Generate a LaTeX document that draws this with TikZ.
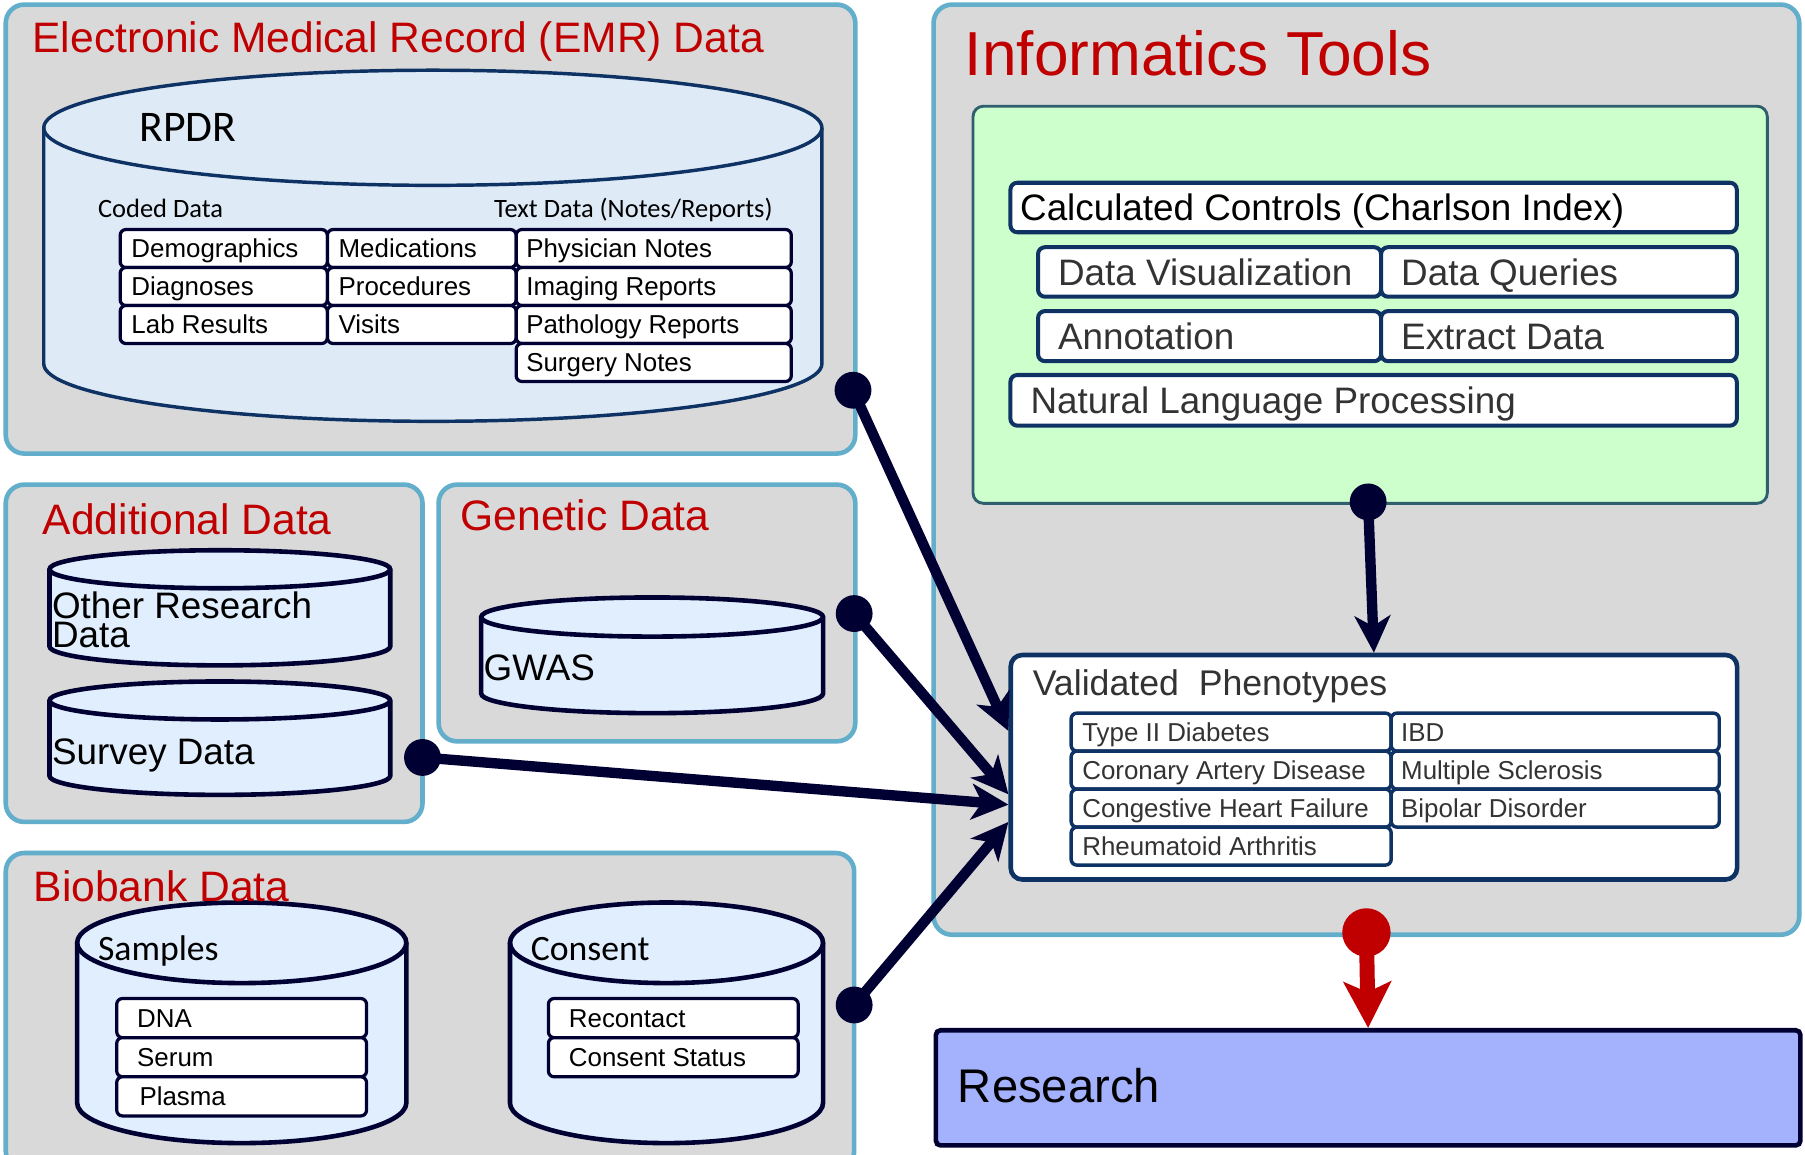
\documentclass[tikz,border=0pt]{standalone}
\usepackage{fontspec}
\setmainfont{Liberation Sans}
\newfontfamily\calfont{Carlito}
\usetikzlibrary{arrows.meta}

\newcommand\fsz[1]{\fontsize{#1}{#1}\selectfont}

\definecolor{panelfill}{HTML}{D9D9D9}
\definecolor{panelline}{HTML}{62AECB}
\definecolor{titlered}{HTML}{C00000}
\definecolor{inknavy}{HTML}{000033}
\definecolor{navyline}{HTML}{0E3263}
\definecolor{cylfilla}{HTML}{DEEAF6}
\definecolor{cylfillb}{HTML}{E1EEFD}
\definecolor{toolgreen}{HTML}{CCFFCC}
\definecolor{toolline}{HTML}{2F5F6F}
\definecolor{researchfill}{HTML}{A4B1FD}
\definecolor{graytext}{HTML}{333333}

% database cylinder: style, centre x, top-ellipse y, bottom-ellipse y, x radius, y radius
\newcommand\dbcyl[6]{%
  \path[#1] ({#2-#5},#3) -- ({#2-#5},#4)
     arc[start angle=180,end angle=0,x radius=#5,y radius=#6]
     -- ({#2+#5},#3)
     arc[start angle=0,end angle=-180,x radius=#5,y radius=#6] -- cycle;
  \path[#1,fill=none] ({#2+#5},#3)
     arc[start angle=0,end angle=180,x radius=#5,y radius=#6];
}

% framed cell with left-set label: box style, text style, name, x, y, width, height, text inset, label
\newcommand\cell[9]{%
  \node[#1,minimum width=#6pt,minimum height=#7pt] (#3) at (#4,#5) {};
  \node[#2] (#3-t) at ([xshift=#8pt]#3.west) {#9};
}

\begin{document}
\begin{tikzpicture}[x=1pt,y=-1pt,
  panel/.style={draw=panelline,line width=4pt,fill=panelfill,rounded corners=16pt,
    anchor=north west,inner sep=0pt,outer sep=0pt},
  paneltitle/.style={anchor=base west,inner sep=0pt,text=titlered,font=\fsz{37}},
  emrdb/.style={draw=navyline,line width=3pt,fill=cylfilla},
  db/.style={draw=inknavy,line width=4pt,fill=cylfillb},
  dblabel/.style={anchor=base west,inner sep=0pt,font=\fsz{32}},
  callabel/.style={anchor=base west,inner sep=0pt,font=\calfont\fsz{#1}},
  cellbox/.style={draw=inknavy,line width=2.8pt,fill=white,rounded corners=5pt,
    anchor=north west,inner sep=0pt},
  celltext/.style={anchor=west,inner sep=0pt,text height=16pt,text depth=0pt,font=\fsz{22.5}},
  toolbox/.style={draw=navyline,line width=3.5pt,fill=white,rounded corners=6pt,
    anchor=north west,inner sep=0pt},
  tooltext/.style={anchor=west,inner sep=0pt,text height=23pt,text depth=0pt,
    font=\fsz{32},text=graytext},
  vpbox/.style={draw=navyline,line width=3pt,fill=white,rounded corners=5pt,
    anchor=north west,inner sep=0pt},
  vptext/.style={celltext,text=graytext},
  flow/.style={draw=inknavy,line width=9pt,-{Stealth[length=32pt,width=31pt,inset=9pt]}},
  redflow/.style={draw=titlered,line width=13pt,-{Stealth[length=40pt,width=41pt,inset=9pt]}}
]
\useasboundingbox (0,0) rectangle (1568,1003);
\clip (0,0) rectangle (1568,1003);

% ---------- panels ----------
\node[panel,minimum width=738pt,minimum height=390pt] (emr) at (5,4) {};
\node[panel,minimum width=362pt,minimum height=293pt] (addl) at (5,421) {};
\node[panel,minimum width=362pt,minimum height=223pt] (gen) at (381,421) {};
\node[panel,minimum width=737pt,minimum height=275pt] (bio) at (5,741) {};
\node[panel,minimum width=752pt,minimum height=808pt] (info) at (811,4) {};

% ---------- EMR data ----------
\dbcyl{emrdb}{376}{111}{316}{338}{50}
\node[callabel=38] (rpdr) at (121,123) {RPDR};
\node[callabel=23] (coded) at (85,189) {Coded Data};
\node[callabel=23] (textdata) at (429,189) {Text Data (Notes/Reports)};

\cell{cellbox}{celltext}{demo}{103}{198}{180}{33}{11}{Demographics}
\cell{cellbox}{celltext}{diag}{103}{231}{180}{33}{11}{Diagnoses}
\cell{cellbox}{celltext}{lab}{103}{264}{180}{33}{11}{Lab Results}
\cell{cellbox}{celltext}{meds}{283}{198}{164}{33}{11}{Medications}
\cell{cellbox}{celltext}{proc}{283}{231}{164}{33}{11}{Procedures}
\cell{cellbox}{celltext}{visits}{283}{264}{164}{33}{11}{Visits}
\cell{cellbox}{celltext}{phys}{447}{198}{239}{33}{10}{Physician Notes}
\cell{cellbox}{celltext}{imag}{447}{231}{239}{33}{10}{Imaging Reports}
\cell{cellbox}{celltext}{path}{447}{264}{239}{33}{10}{Pathology Reports}
\cell{cellbox}{celltext}{surg}{447}{297}{239}{33}{10}{Surgery Notes}

\node[paneltitle] (emrtitle) at (28,46) {Electronic Medical Record (EMR) Data};

% ---------- additional data ----------
\dbcyl{db}{191}{494.5}{561.5}{148}{16.5}
\node[anchor=north west,inner sep=0pt,align=left,font=\fontsize{32}{25}\selectfont]
  (other) at (45,514) {Other Research\\Data};
\dbcyl{db}{191}{608.5}{674}{148}{16.5}
\node[dblabel] (survey) at (45,664) {Survey Data};
\node[paneltitle] (addltitle) at (37,464) {Additional Data};

% ---------- genetic data ----------
\dbcyl{db}{566.5}{536}{602.5}{148.5}{17}
\node[dblabel] (gwas) at (420,591) {GWAS};
\node[paneltitle] (gentitle) at (400,461) {Genetic Data};

% ---------- biobank data ----------
\dbcyl{db}{210}{819}{958}{143}{35}
\node[callabel=31] (samples) at (85,834) {Samples};
\cell{cellbox}{celltext}{dna}{100}{866}{217}{34}{19}{DNA}
\cell{cellbox}{celltext}{serum}{100}{900}{217}{34}{19}{Serum}
\cell{cellbox}{celltext}{plasma}{100}{934}{217}{34}{21}{Plasma}
\dbcyl{db}{579}{819}{958}{136}{35}
\node[callabel=31] (consent) at (461,834) {Consent};
\cell{cellbox}{celltext}{recon}{475}{866}{217}{34}{19}{Recontact}
\cell{cellbox}{celltext}{cstat}{475}{900}{217}{34}{19}{Consent Status}
\node[paneltitle] (biotitle) at (29,783) {Biobank Data};

% ---------- informatics tools ----------
\node[paneltitle,font=\fsz{54}] (infotitle) at (838,66) {Informatics Tools};
\node[draw=toolline,line width=2.5pt,fill=toolgreen,rounded corners=9pt,
  anchor=north west,inner sep=0pt,minimum width=690pt,minimum height=345pt] (tools) at (844,91) {};
\cell{toolbox}{tooltext,text=black}{calc}{876}{157}{631}{43}{10}{Calculated Controls (Charlson Index)}
\cell{toolbox}{tooltext}{vis}{900}{213}{298}{43}{19}{Data Visualization}
\cell{toolbox}{tooltext}{query}{1198}{213}{309}{43}{19}{Data Queries}
\cell{toolbox}{tooltext}{annot}{900}{268.5}{298}{43.5}{19}{Annotation}
\cell{toolbox}{tooltext}{extract}{1198}{268.5}{309}{43.5}{19}{Extract Data}
\cell{toolbox}{tooltext}{nlp}{876}{324}{631}{44}{19}{Natural Language Processing}

% ---------- validated phenotypes ----------
\node[vpbox,line width=4pt,rounded corners=10pt,minimum width=631pt,minimum height=195pt] (vp) at (876,567) {};
\node[anchor=base west,inner sep=0pt,font=\fsz{31},text=graytext] (vptitle) at (897,604) {Validated\ \ Phenotypes};
\cell{vpbox}{vptext}{t2d}{929}{618}{278}{33}{11}{Type II Diabetes}
\cell{vpbox}{vptext}{cad}{929}{651}{278}{33}{11}{Coronary Artery Disease}
\cell{vpbox}{vptext}{chf}{929}{684}{278}{33}{11}{Congestive Heart Failure}
\cell{vpbox}{vptext}{ra}{929}{717}{278}{33}{11}{Rheumatoid Arthritis}
\cell{vpbox}{vptext}{ibd}{1207}{618}{285}{33}{10}{IBD}
\cell{vpbox}{vptext}{ms}{1207}{651}{285}{33}{10}{Multiple Sclerosis}
\cell{vpbox}{vptext}{bipolar}{1207}{684}{285}{33}{10}{Bipolar Disorder}

% ---------- research ----------
\node[draw=inknavy,line width=4pt,fill=researchfill,rounded corners=4pt,anchor=north west,
  inner sep=0pt,minimum width=751pt,minimum height=100pt] (research) at (811,893) {};
\node[anchor=base west,inner sep=0pt,font=\fsz{41}] (researcht) at (832,958) {Research};

% ---------- connectors ----------
\coordinate (emrdot) at (741,339);
\coordinate (gendot) at (742,533);
\coordinate (survdot) at (367,658);
\coordinate (biodot) at (742,873);
\coordinate (tooldot) at (1188.5,436);
\coordinate (reddot) at (1187,810);
\coordinate (in1) at (876,635);
\coordinate (in2) at (876,690);
\coordinate (in3) at (876,699);
\coordinate (in4) at (876,714);

\draw[flow] (emrdot) -- (in1);
\draw[flow] (gendot) -- (in2);
\draw[flow] (survdot) -- (in3);
\draw[flow] (biodot) -- (in4);
\draw[flow] (tooldot) -- (vp.north);
\draw[redflow] (reddot) -- (research.north);

\foreach \d in {emrdot,gendot,survdot,biodot,tooldot}
  \fill[inknavy] (\d) circle[radius=16pt];
\fill[titlered] (reddot) circle[radius=21pt];
\end{tikzpicture}
\end{document}
